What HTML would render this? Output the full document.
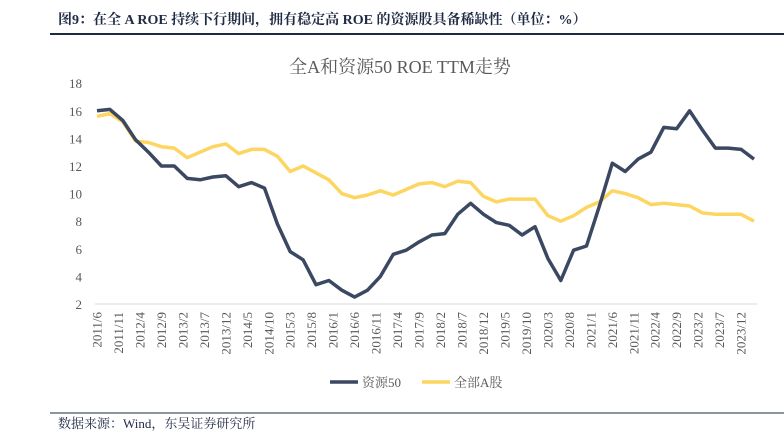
<!DOCTYPE html>
<html><head><meta charset="utf-8"><style>
body{margin:0;width:784px;height:432px;background:#fff;overflow:hidden;font-family:"Liberation Serif","Noto Serif CJK SC",serif;}
</style></head><body>
<svg width="784" height="432">
<text x="58" y="24" font-size="14" font-weight="bold" fill="#1f2a44" font-family="Liberation Serif, Noto Serif CJK SC, serif">图9：在全 A ROE 持续下行期间，拥有稳定高 ROE 的资源股具备稀缺性（单位：%）</text>
<line x1="50" y1="34" x2="784" y2="34" stroke="#1f2a44" stroke-width="2"/>
<text x="400" y="73" font-size="18" fill="#595959" text-anchor="middle">全A和资源50 ROE TTM走势</text>
<g id="axes"></g>
<g id="plot"></g>
<g>
<line x1="330" y1="382" x2="358" y2="382" stroke="#3b4861" stroke-width="3.5"/>
<text x="362" y="387" font-size="13" fill="#595959">资源50</text>
<line x1="422" y1="382" x2="450" y2="382" stroke="#fdd561" stroke-width="3.5"/>
<text x="454" y="387" font-size="13" fill="#595959">全部A股</text>
</g>
<line x1="50" y1="413" x2="784" y2="413" stroke="#1f2a44" stroke-width="1"/>
<text x="58" y="428" font-size="13" fill="#1f2a44">数据来源：Wind，东吴证券研究所</text>
</svg>
<script>
const yTicks=[2,4,6,8,10,12,14,16,18];
const xLabels=["2011/6","2011/11","2012/4","2012/9","2013/2","2013/7","2013/12","2014/5","2014/10","2015/3","2015/8","2016/1","2016/6","2016/11","2017/4","2017/9","2018/2","2018/7","2018/12","2019/5","2019/10","2020/3","2020/8","2021/1","2021/6","2021/11","2022/4","2022/9","2023/2","2023/7","2023/12"];
const resource50=[16.0,16.1,15.3,13.9,13.0,12.0,12.0,11.1,11.0,11.2,11.3,10.5,10.8,10.4,7.8,5.8,5.2,3.4,3.7,3.0,2.5,3.0,4.0,5.6,5.9,6.5,7.0,7.1,8.5,9.3,8.5,7.9,7.7,7.0,7.6,5.3,3.7,5.9,6.2,9.1,12.2,11.6,12.5,13.0,14.8,14.7,16.0,14.6,13.3,13.3,13.2,12.5];
const allA=[15.6,15.8,15.2,13.8,13.7,13.4,13.3,12.6,13.0,13.4,13.6,12.9,13.2,13.2,12.7,11.6,12.0,11.5,11.0,10.0,9.7,9.9,10.2,9.9,10.3,10.7,10.8,10.5,10.9,10.8,9.8,9.4,9.6,9.6,9.6,8.4,8.0,8.4,9.0,9.4,10.2,10.0,9.7,9.2,9.3,9.2,9.1,8.6,8.5,8.5,8.5,8.0];
const NS="http://www.w3.org/2000/svg";
const x0=97,x1=754,yBase=304,yPer=13.8;
function yS(v){return yBase-(v-2)*yPer;}
function xS(i){return x0+i*(x1-x0)/(resource50.length-1);}
function xM(m){return x0+m*(x1-x0)/153;}
const axes=document.getElementById('axes'),plot=document.getElementById('plot');
function mk(t,a,p){const e=document.createElementNS(NS,t);for(const k in a)e.setAttribute(k,a[k]);p.appendChild(e);return e;}
yTicks.forEach(v=>{const t=mk('text',{x:82,y:yS(v)+5,'font-size':13,fill:'#595959','text-anchor':'end'},axes);t.textContent=v;

});
const ax=mk('line',{x1:95,y1:yBase,x2:757,y2:yBase,stroke:'#d9d9d9','stroke-width':1},axes);


xLabels.forEach((l,k)=>{const x=xM(k*5)+4.5;const t=mk('text',{x:x,y:312,'font-size':13,fill:'#595959','text-anchor':'end',transform:`rotate(-90 ${x} 312)`},axes);t.textContent=l;

});
function line(d,c,name){const p=mk('polyline',{points:d.map((v,i)=>xS(i).toFixed(1)+','+yS(v).toFixed(1)).join(' '),fill:'none',stroke:c,'stroke-width':3.5,'stroke-linejoin':'round'},plot);

}
line(allA,'#fdd561','series-all-a');
line(resource50,'#3b4861','series-resource50');
</script>
</body></html>
